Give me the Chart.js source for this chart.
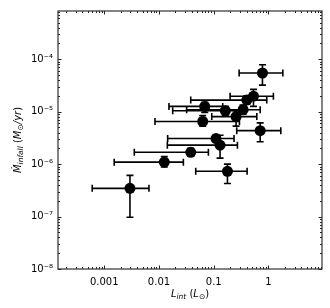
<!DOCTYPE html>
<html>
<head>
<meta charset="utf-8">
<script src="https://cdn.jsdelivr.net/npm/chart.js@4"></script>
<style>
  html, body { margin: 0; padding: 0; background: #fff; }
  #wrap { width: 330px; height: 308px; }
</style>
</head>
<body>
<div id="wrap"><canvas id="chart" width="330" height="308"></canvas></div>
<script>
// internal luminosity (Lsun) with lower / upper error limits
const lint   = [0.776, 0.532, 0.402, 0.0685, 0.163, 0.344, 0.256, 0.0629, 0.705, 0.110, 0.1305, 0.038, 0.0125, 0.178, 0.00295];
const lintLo = [0.291, 0.199, 0.038, 0.0152, 0.0178, 0.032, 0.092, 0.00845, 0.263, 0.0144, 0.0142, 0.00354, 0.00152, 0.0469, 0.000603];
const lintHi = [1.83, 1.23, 0.93, 0.146, 0.312, 0.705, 0.612, 0.295, 1.68, 0.235, 0.271, 0.0799, 0.0279, 0.407, 0.00656];

// infall rate (Msun/yr) with lower / upper error limits
const mdot   = [5.46e-5, 1.97e-5, 1.66e-5, 1.26e-5, 1.04e-5, 1.09e-5, 8.05e-6, 6.5e-6, 4.34e-6, 3.07e-6, 2.3e-6, 1.68e-6, 1.09e-6, 7.3e-7, 3.45e-7];
const mdotLo = [3.21e-5, 1.26e-5, 1.39e-5, 9.7e-6, 8.4e-6, 8.9e-6, 5.3e-6, 5.3e-6, 2.66e-6, 2.66e-6, 1.3e-6, 1.45e-6, 8.8e-7, 4.28e-7, 9.7e-8];
const mdotHi = [7.83e-5, 2.66e-5, 2.0e-5, 1.5e-5, 1.26e-5, 1.33e-5, 1.04e-5, 8.4e-6, 6.1e-6, 3.6e-6, 3.55e-6, 2.0e-6, 1.39e-6, 1.0e-6, 6.1e-7];

const xTicks = [0.001, 0.01, 0.1, 1];
const xTickLabels = ['0.001', '0.01', '0.1', '1'];
const yTicks = [1e-8, 1e-7, 1e-6, 1e-5, 1e-4];
const yTickLabels = ['10\u207B\u2078', '10\u207B\u2077', '10\u207B\u2076', '10\u207B\u2075', '10\u207B\u2074'];

const FONT = 'DejaVu Sans';

// error bars, drawn under the markers
const errorBars = {
    id: 'errorBars',
    beforeDatasetsDraw(chart) {
        const ctx = chart.ctx, xs = chart.scales.x, ys = chart.scales.y;
        const cap = 3.5;
        ctx.save();
        ctx.strokeStyle = '#000';
        ctx.lineWidth = 1.6;
        lint.forEach((v, i) => {
            const px = xs.getPixelForValue(v), py = ys.getPixelForValue(mdot[i]);
            const x0 = xs.getPixelForValue(lintLo[i]), x1 = xs.getPixelForValue(lintHi[i]);
            const y0 = ys.getPixelForValue(mdotLo[i]), y1 = ys.getPixelForValue(mdotHi[i]);
            ctx.beginPath();
            ctx.moveTo(x0, py); ctx.lineTo(x1, py);
            ctx.moveTo(x0, py - cap); ctx.lineTo(x0, py + cap);
            ctx.moveTo(x1, py - cap); ctx.lineTo(x1, py + cap);
            ctx.moveTo(px, y0); ctx.lineTo(px, y1);
            ctx.moveTo(px - cap, y0); ctx.lineTo(px + cap, y0);
            ctx.moveTo(px - cap, y1); ctx.lineTo(px + cap, y1);
            ctx.stroke();
        });
        ctx.restore();
    }
};

function minorValues(min, max) {
    const out = [];
    for (let e = Math.floor(Math.log10(min)); e <= Math.ceil(Math.log10(max)); e++) {
        for (let m = 1; m < 10; m++) {
            const v = m * Math.pow(10, e);
            if (v >= min && v <= max) out.push({ v: v, major: m === 1 });
        }
    }
    return out;
}

// frame + inward ticks on all four sides (matplotlib look)
const frame = {
    id: 'frame',
    afterDraw(chart) {
        const ctx = chart.ctx, a = chart.chartArea, xs = chart.scales.x, ys = chart.scales.y;
        ctx.save();
        ctx.strokeStyle = '#222';
        ctx.lineWidth = 1;
        minorValues(xs.min, xs.max).forEach(t => {
            const p = Math.round(xs.getPixelForValue(t.v)) + 0.5;
            const len = t.major ? 3.5 : 2;
            ctx.beginPath();
            ctx.moveTo(p, a.bottom); ctx.lineTo(p, a.bottom - len);
            ctx.moveTo(p, a.top); ctx.lineTo(p, a.top + len);
            ctx.stroke();
        });
        minorValues(ys.min, ys.max).forEach(t => {
            const p = Math.round(ys.getPixelForValue(t.v)) + 0.5;
            const len = t.major ? 3.5 : 2;
            ctx.beginPath();
            ctx.moveTo(a.left, p); ctx.lineTo(a.left + len, p);
            ctx.moveTo(a.right, p); ctx.lineTo(a.right - len, p);
            ctx.stroke();
        });
        ctx.lineWidth = 1.2;
        ctx.strokeStyle = '#333';
        ctx.strokeRect(a.left, a.top, a.right - a.left, a.bottom - a.top);
        ctx.restore();

        // axis titles with sub/italic parts
        drawRich(ctx, [
            { t: 'L', it: true }, { t: 'int', it: true, sub: true },
            { t: ' (' }, { t: 'L', it: true }, { t: '\u2299', sub: true }, { t: ')' }
        ], (a.left + a.right) / 2, 293, 0);
        drawRich(ctx, [
            { t: '\u1E40', it: true }, { t: 'infall', it: true, sub: true },
            { t: ' (' }, { t: 'M', it: true }, { t: '\u2299', sub: true }, { t: '/yr', it: true }, { t: ')' }
        ], 17, (a.top + a.bottom) / 2, -Math.PI / 2);
    }
};

function drawRich(ctx, parts, cx, cy, rot) {
    const size = 10, subSize = 7.5;
    const fontOf = p => (p.it ? 'italic ' : '') + (p.sub ? subSize : size) + 'px "' + FONT + '"';
    let w = 0;
    parts.forEach(p => { ctx.font = fontOf(p); p.w = ctx.measureText(p.t).width; w += p.w; });
    ctx.save();
    ctx.translate(cx, cy);
    ctx.rotate(rot);
    ctx.fillStyle = '#000';
    ctx.textBaseline = 'alphabetic';
    let x = -w / 2;
    parts.forEach(p => {
        ctx.font = fontOf(p);
        ctx.fillText(p.t, x, p.sub ? 5.5 : 3.5);
        x += p.w;
    });
    ctx.restore();
}

new Chart(document.getElementById('chart'), {
    type: 'scatter',
    data: {
        datasets: [{
            data: lint.map((v, i) => ({ x: v, y: mdot[i] })),
            backgroundColor: '#000',
            borderWidth: 0,
            pointRadius: 5.5,
            pointHoverRadius: 5.5
        }]
    },
    options: {
        responsive: false,
        devicePixelRatio: 1,
        animation: false,
        layout: { padding: { top: 7, right: 8, left: 0, bottom: 0 } },
        plugins: { legend: { display: false }, tooltip: { enabled: false } },
        scales: {
            x: {
                type: 'logarithmic',
                min: 1.43e-4,
                max: 9.5,
                grid: { display: false, drawTicks: false },
                border: { display: false },
                afterBuildTicks: s => { s.ticks = xTicks.map(v => ({ value: v })); },
                afterFit: s => { s.height = 39; },
                ticks: {
                    autoSkip: false, maxRotation: 0, padding: 7, color: '#000',
                    font: { family: FONT, size: 10 },
                    callback: v => xTickLabels[xTicks.indexOf(v)]
                }
            },
            y: {
                type: 'logarithmic',
                min: 1e-8,
                max: 8.3e-4,
                grid: { display: false, drawTicks: false },
                border: { display: false },
                afterBuildTicks: s => { s.ticks = yTicks.map(v => ({ value: v })); },
                afterFit: s => { s.width = 58; },
                ticks: {
                    autoSkip: false, padding: 5, color: '#000',
                    font: { family: FONT, size: 10 },
                    callback: v => yTickLabels[yTicks.indexOf(v)]
                }
            }
        }
    },
    plugins: [errorBars, frame]
});
</script>
</body>
</html>
